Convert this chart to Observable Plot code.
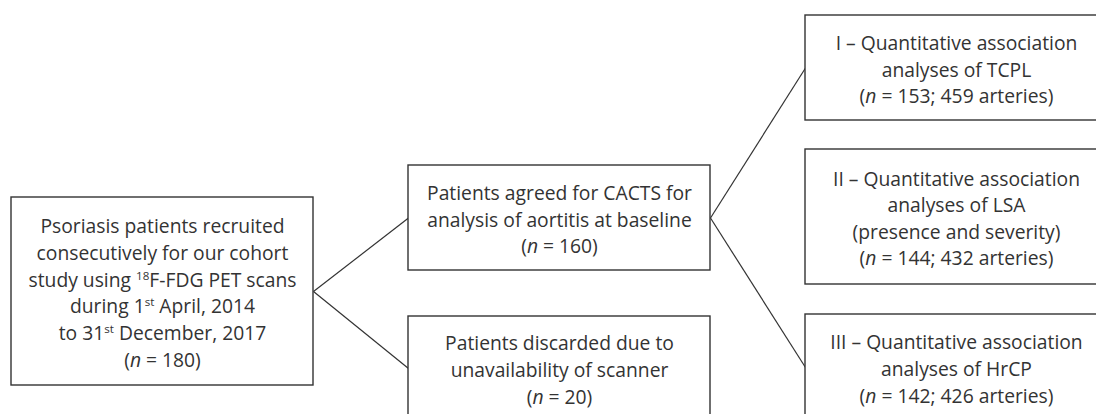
<!DOCTYPE html>
<html><head><meta charset="utf-8">
<script src="https://cdn.jsdelivr.net/npm/d3@7"></script>
<script src="https://cdn.jsdelivr.net/npm/@observablehq/plot@0.6"></script>
<style>html,body{margin:0;padding:0;background:#fff;overflow:hidden}</style>
</head><body><div id="chart"></div>
<script>
// Flowchart content
const boxLabels = [
  "Psoriasis patients recruited\nconsecutively for our cohort\nstudy using ^18F-FDG PET scans\nduring 1^st April, 2014\nto 31^st December, 2017\n(_n_ = 180)",
  "Patients agreed for CACTS for\nanalysis of aortitis at baseline\n(_n_ = 160)",
  "Patients discarded due to\nunavailability of scanner\n(_n_ = 20)",
  "I – Quantitative association\nanalyses of TCPL\n(_n_ = 153; 459 arteries)",
  "II – Quantitative association\nanalyses of LSA\n(presence and severity)\n(_n_ = 144; 432 arteries)",
  "III – Quantitative association\nanalyses of HrCP\n(_n_ = 142; 426 arteries)"
];
// stage (column) of each box and its vertical extent in layout units
const boxStage = [0, 1, 1, 2, 2, 2];
const boxTop = [197, 165, 316, 15, 149, 314];
const boxBottom = [385, 270, 420, 120, 284, 420];
// connections
const flowFrom = [0, 0, 1, 1];
const flowTo = [1, 2, 3, 5];

const BOX_W = 302 / 397;
const boxes = boxLabels.map((label, i) => ({
  label, stage: boxStage[i], top: boxTop[i], bottom: boxBottom[i],
  mid: (boxTop[i] + boxBottom[i]) / 2
}));
const flows = flowFrom.map((f, i) => ({a: boxes[f], b: boxes[flowTo[i]]}));

const ink = "#333333";
const svg = Plot.plot({
  width: 1096, height: 414,
  margin: 0,
  x: {domain: [0, 3], range: [11, 11 + 3 * 397], axis: null},
  y: {domain: [0, 414], range: [0, 414], axis: null},
  style: {fontFamily: "'Open Sans', sans-serif", fontSize: "19.3px", color: ink, background: "#fff"},
  marks: [
    Plot.link(flows, {
      x1: d => d.a.stage + BOX_W, y1: d => d.a.mid,
      x2: d => d.b.stage, y2: d => d.b.mid,
      stroke: ink, strokeWidth: 1.2, clip: "frame"
    }),
    Plot.rect(boxes, {
      x1: "stage", x2: d => d.stage + BOX_W, y1: "top", y2: "bottom",
      fill: "#fff", stroke: ink, strokeWidth: 1.4, clip: "frame"
    }),
    Plot.text(boxes, {
      x: d => d.stage + BOX_W / 2, y: "mid", text: "label",
      lineHeight: 1.38, fill: ink, textAnchor: "middle", lineAnchor: "middle"
    })
  ]
});
document.getElementById("chart").appendChild(svg);

// rich text: ^sup and _italic_
const NS = "http://www.w3.org/2000/svg";
svg.querySelectorAll("text tspan, text").forEach(node => {
  if (node.children.length) return;
  const s = node.textContent;
  if (!/[\^_]/.test(s)) return;
  node.textContent = "";
  const re = /\^(\d+|[a-z]+)|_(\w+)_/g;
  let last = 0, m;
  while ((m = re.exec(s))) {
    if (m.index > last) node.appendChild(document.createTextNode(s.slice(last, m.index)));
    const t = document.createElementNS(NS, "tspan");
    if (m[1]) {
      t.setAttribute("baseline-shift", "super");
      t.style.fontSize = "60%";
      t.textContent = m[1];
    } else {
      t.setAttribute("font-style", "italic");
      t.textContent = m[2];
    }
    node.appendChild(t);
    last = re.lastIndex;
  }
  if (last < s.length) node.appendChild(document.createTextNode(s.slice(last)));
});
</script>
</body></html>
